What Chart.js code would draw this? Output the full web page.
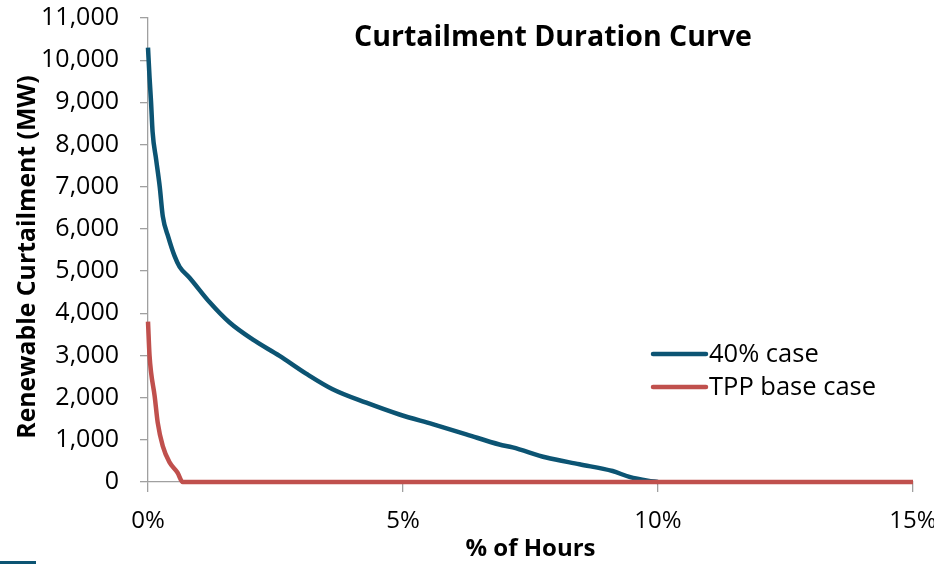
<!DOCTYPE html>
<html>
<head>
<meta charset="utf-8">
<script src="https://cdn.jsdelivr.net/npm/chart.js@4.4.1/dist/chart.umd.min.js"></script>
<style>
  html, body { margin: 0; padding: 0; background: #ffffff; }
  #wrap { position: relative; width: 934px; height: 564px; }
  #chart { display: block; }
  #deco { position: absolute; left: 0; top: 561px; width: 36px; height: 3px; background: #0C5473; }
</style>
</head>
<body>
<div id="wrap">
  <canvas id="chart" width="934" height="564"></canvas>
  <div id="deco"></div>
</div>
<script>
// ---- data ----
const chartTitle = "Curtailment Duration Curve";
const xAxisTitle = "% of Hours";
const yAxisTitle = "Renewable Curtailment (MW)";
const seriesNames = ["40% case", "TPP base case"];

// x: % of hours, y: MW
const case40Hours = [0, 0.03, 0.06, 0.09, 0.16, 0.23, 0.29, 0.40, 0.52, 0.62, 0.81, 1.21, 1.60, 2.05, 2.58, 3.10, 3.62, 4.28, 4.93, 5.58, 6.24, 6.89, 7.15, 7.81, 8.46, 9.11, 9.44, 9.80, 10.0];
const case40MW    = [10300, 9600, 9000, 8300, 7640, 7000, 6300, 5800, 5360, 5100, 4850, 4260, 3780, 3380, 2990, 2570, 2200, 1880, 1600, 1370, 1130, 890, 820, 580, 420, 260, 120, 30, 0];

const tppHours = [0, 0.03, 0.06, 0.13, 0.19, 0.29, 0.42, 0.58, 0.68, 15];
const tppMW    = [3800, 3000, 2600, 2040, 1410, 850, 470, 220, 0, 0];

const xTicks = [0, 5, 10, 15];
const yMin = 0, yMax = 11000, yStep = 1000;

// ---- build ----
function toPoints(xs, ys) { return xs.map((x, i) => ({ x: x, y: ys[i] })); }

const colors = ["#0C5473", "#C0504D"];
const FONT = "'Open Sans', 'Liberation Sans', sans-serif";

const overlayPlugin = {
  id: 'overlay',
  afterDraw(chart) {
    const ctx = chart.ctx;
    ctx.save();
    ctx.fillStyle = '#000';
    // chart title
    ctx.font = "bold 28.5px " + FONT;
    ctx.textAlign = 'center';
    ctx.textBaseline = 'middle';
    ctx.fillText(chartTitle, 553, 38);
    // y axis title
    ctx.save();
    ctx.translate(28, 257);
    ctx.rotate(-Math.PI / 2);
    ctx.font = "bold 24.8px " + FONT;
    ctx.fillText(yAxisTitle, 0, 0);
    ctx.restore();
    // legend
    const rows = [354, 387];
    seriesNames.forEach((name, i) => {
      ctx.strokeStyle = colors[i];
      ctx.lineWidth = 4.5;
      ctx.lineCap = 'round';
      ctx.beginPath();
      ctx.moveTo(653, rows[i]);
      ctx.lineTo(706, rows[i]);
      ctx.stroke();
      ctx.fillStyle = '#000';
      ctx.font = "25.5px " + FONT;
      ctx.textAlign = 'left';
      ctx.textBaseline = 'middle';
      ctx.fillText(name, 709, rows[i] + 1);
    });
    ctx.restore();
  }
};

new Chart(document.getElementById('chart'), {
  type: 'line',
  data: {
    datasets: [
      { label: seriesNames[0], data: toPoints(case40Hours, case40MW), borderColor: colors[0], backgroundColor: colors[0],
        borderWidth: 4.5, pointRadius: 0, cubicInterpolationMode: 'monotone', clip: false, order: 2 },
      { label: seriesNames[1], data: toPoints(tppHours, tppMW), borderColor: colors[1], backgroundColor: colors[1],
        borderWidth: 4.5, pointRadius: 0, cubicInterpolationMode: 'monotone', clip: false, order: 1 }
    ]
  },
  options: {
    responsive: false,
    animation: false,
    devicePixelRatio: 1,
    layout: { padding: { top: 18, right: 21, left: 0, bottom: 0 } },
    plugins: { legend: { display: false }, tooltip: { enabled: false }, title: { display: false } },
    scales: {
      x: {
        type: 'linear', min: 0, max: 15,
        afterBuildTicks(scale) { scale.ticks = xTicks.map(v => ({ value: v })); },
        afterFit(scale) { scale.height = 82; scale.paddingLeft = 0; scale.paddingRight = 0; },
        ticks: { callback: v => v + '%', color: '#000', font: { family: FONT, size: 24 }, padding: 15, maxRotation: 0, autoSkip: false },
        grid: { drawOnChartArea: false, drawTicks: true, tickLength: 10, color: '#A0A0A0', lineWidth: 1.3 },
        border: { display: true, color: '#A0A0A0', width: 1.3 },
        title: { display: true, text: xAxisTitle, color: '#000', font: { family: FONT, size: 24, weight: 'bold' }, padding: { top: 0, bottom: 0 } }
      },
      y: {
        type: 'linear', min: yMin, max: yMax,
        ticks: { stepSize: yStep, callback: v => v.toLocaleString('en-US'), color: '#000', font: { family: FONT, size: 25 }, padding: 21 },
        afterFit(scale) { scale.width = 148; scale.paddingTop = 0; scale.paddingBottom = 0; },
        grid: { drawOnChartArea: false, drawTicks: true, tickLength: 8, color: '#A0A0A0', lineWidth: 1.3 },
        border: { display: true, color: '#A0A0A0', width: 1.3 },
        title: { display: false, text: yAxisTitle }
      }
    }
  },
  plugins: [overlayPlugin]
});
</script>
</body>
</html>
